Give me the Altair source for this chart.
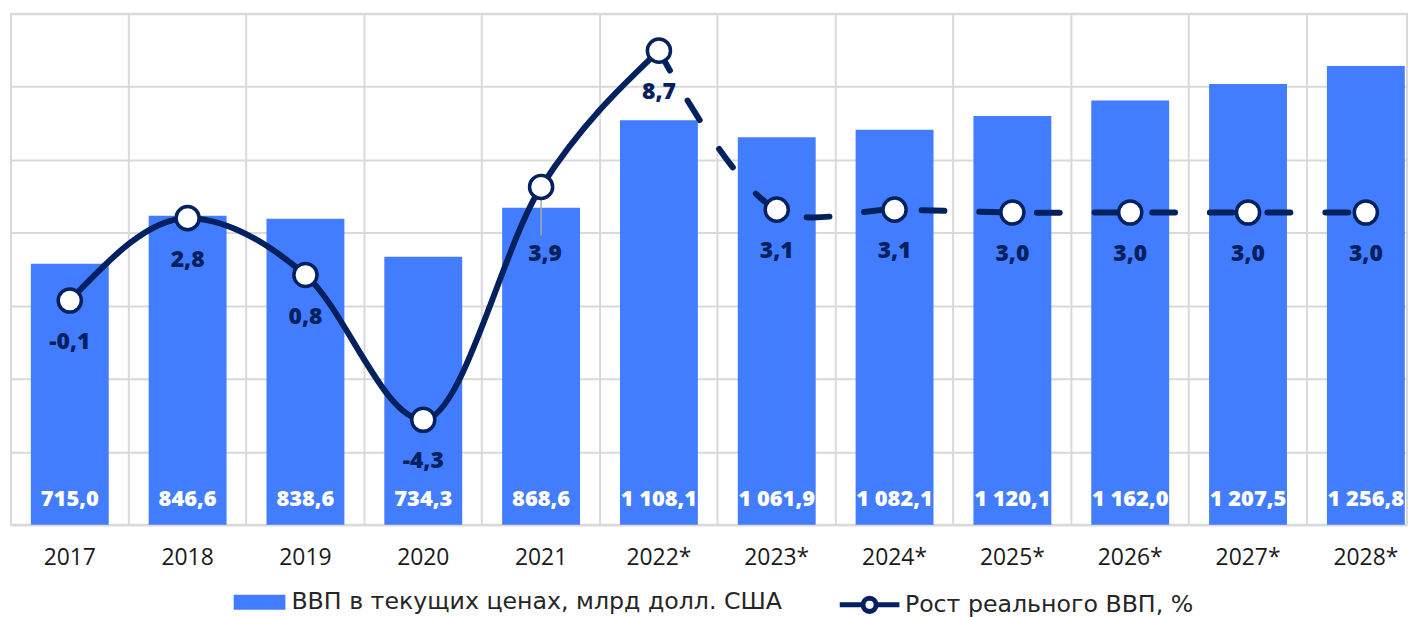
import altair as alt
import pandas as pd

years = ["2017", "2018", "2019", "2020", "2021", "2022*", "2023*", "2024*", "2025*", "2026*", "2027*", "2028*"]
gdp = [715.0, 846.6, 838.6, 734.3, 868.6, 1108.1, 1061.9, 1082.1, 1120.1, 1162.0, 1207.5, 1256.8]
growth = [-0.1, 2.8, 0.8, -4.3, 3.9, 8.7, 3.1, 3.1, 3.0, 3.0, 3.0, 3.0]
fact_years = years[:6]
forecast_years = years[5:]
moved_label_years = ["2021"]      # label moved down in the original, with a leader line
leader_end = [2.2]                # growth value where the leader line ends

BAR_NAME = "ВВП в текущих ценах, млрд долл. США"
LINE_NAME = "Рост реального ВВП, %"
BLUE = "#437DFF"
NAVY = "#04215F"
GRID = "#d9d9d9"
FONT = "Open Sans"
LEGEND_FONT = "DejaVu Sans"


def fmt(v):
    s = f"{v:,.1f}"
    return s.replace(",", " ").replace(".", ",")


bar_df = pd.DataFrame({"year": years, "gdp": gdp, "label": [fmt(v) for v in gdp], "series": BAR_NAME})
line_df = pd.DataFrame({"year": years, "growth": growth,
                        "label": [f"{v:.1f}".replace(".", ",") for v in growth], "series": LINE_NAME})
solid_df = line_df[line_df["year"].isin(fact_years)]
dash_df = line_df[line_df["year"].isin(forecast_years)]
normal_lbl = line_df[~line_df["year"].isin(moved_label_years)]
moved_lbl = line_df[line_df["year"].isin(moved_label_years)].copy()
moved_lbl["end"] = leader_end

x_enc = alt.X("year:N", sort=years,
              scale=alt.Scale(paddingInner=0.339, paddingOuter=0.0937, align=0.9),
              axis=alt.Axis(title=None, labelAngle=0, ticks=False, labelPadding=22,
                            labelFont=FONT, labelFontSize=23, labelColor="#1a1a1a",
                            domainColor=GRID, domainWidth=2, grid=True, gridColor=GRID,
                            gridWidth=2, bandPosition=1.256))
x_plain = alt.X("year:N", sort=years)

y_bar = alt.Y("gdp:Q", scale=alt.Scale(domain=[0, 1400], nice=False),
              axis=alt.Axis(title=None, labels=False, ticks=False, domain=False,
                            values=[0, 200, 400, 600, 800, 1000, 1200, 1400],
                            grid=True, gridColor=GRID, gridWidth=2))

bars = alt.Chart(bar_df).mark_bar(color=BLUE).encode(
    x=x_enc,
    y=y_bar,
    fill=alt.Fill("series:N", scale=alt.Scale(domain=[BAR_NAME], range=[BLUE]),
                  legend=alt.Legend(title=None, orient="none", legendX=224, legendY=566,
                                    symbolType="M-1,-0.29H1V0.29H-1Z", symbolSize=2704,
                                    symbolStrokeWidth=0, labelOffset=6, labelLimit=1000,
                                    labelFont=LEGEND_FONT, labelFontSize=23.8, labelColor="#262626",
                                    padding=0)),
)

bar_text = alt.Chart(bar_df).mark_text(color="white", font=FONT, fontWeight=800, fontSize=22,
                                       baseline="bottom", dy=-14).encode(
    x=x_plain,
    y=alt.datum(0),
    text="label:N",
)

bar_layer = alt.layer(bars, bar_text)

y_line = alt.Y("growth:Q", scale=alt.Scale(domain=[-8, 10], nice=False), axis=None)

solid = alt.Chart(solid_df).mark_line(color=NAVY, strokeWidth=6, interpolate="monotone",
                                      strokeCap="round").encode(x=x_plain, y=y_line)

dashed = alt.Chart(dash_df).mark_line(color=NAVY, strokeWidth=6, interpolate="catmull-rom",
                                      strokeCap="round", strokeDash=[23, 35]).encode(x=x_plain, y=y_line)

leader = alt.Chart(moved_lbl).mark_rule(color="#a6a6a6", strokeWidth=1.5).encode(
    x=x_plain, y=y_line, y2="end:Q")

points = alt.Chart(line_df).mark_point(shape="circle", size=540, filled=True, fill="white",
                                       strokeWidth=3.5, opacity=1).encode(
    x=x_plain, y=y_line,
    stroke=alt.Stroke("series:N", scale=alt.Scale(domain=[LINE_NAME], range=[NAVY]),
                      legend=alt.Legend(title=None, orient="none", legendX=831, legendY=562,
                                        symbolType="M-1,0H-0.22M0.22,0H1M0.22,0A0.22,0.22,0,1,1,-0.22,0A0.22,0.22,0,1,1,0.22,0",
                                        symbolSize=3600, symbolStrokeWidth=5,
                                        symbolFillColor="white", labelOffset=3, labelLimit=1000,
                                        labelFont=LEGEND_FONT, labelFontSize=23.8, labelColor="#262626",
                                        padding=0)),
)

line_text = alt.Chart(normal_lbl).mark_text(color=NAVY, font=FONT, fontWeight=800, fontSize=23,
                                            baseline="middle", dy=42).encode(
    x=x_plain, y=y_line, text="label:N")

moved_text = alt.Chart(moved_lbl).mark_text(color=NAVY, font=FONT, fontWeight=800, fontSize=23,
                                            baseline="middle", dy=67, dx=4).encode(
    x=x_plain, y=y_line, text="label:N")

line_layer = alt.layer(leader, solid, dashed, points, line_text, moved_text)

chart = alt.layer(bar_layer, line_layer).resolve_scale(y="independent").properties(
    width=1404, height=514,
    padding={"left": 3, "top": 4, "right": 1, "bottom": 100},
    autosize=alt.AutoSizeParams(type="none"),
    background="white",
).configure_view(stroke=GRID, strokeWidth=2)

chart.save("out.html", embed_options={"renderer": "svg", "actions": False})
